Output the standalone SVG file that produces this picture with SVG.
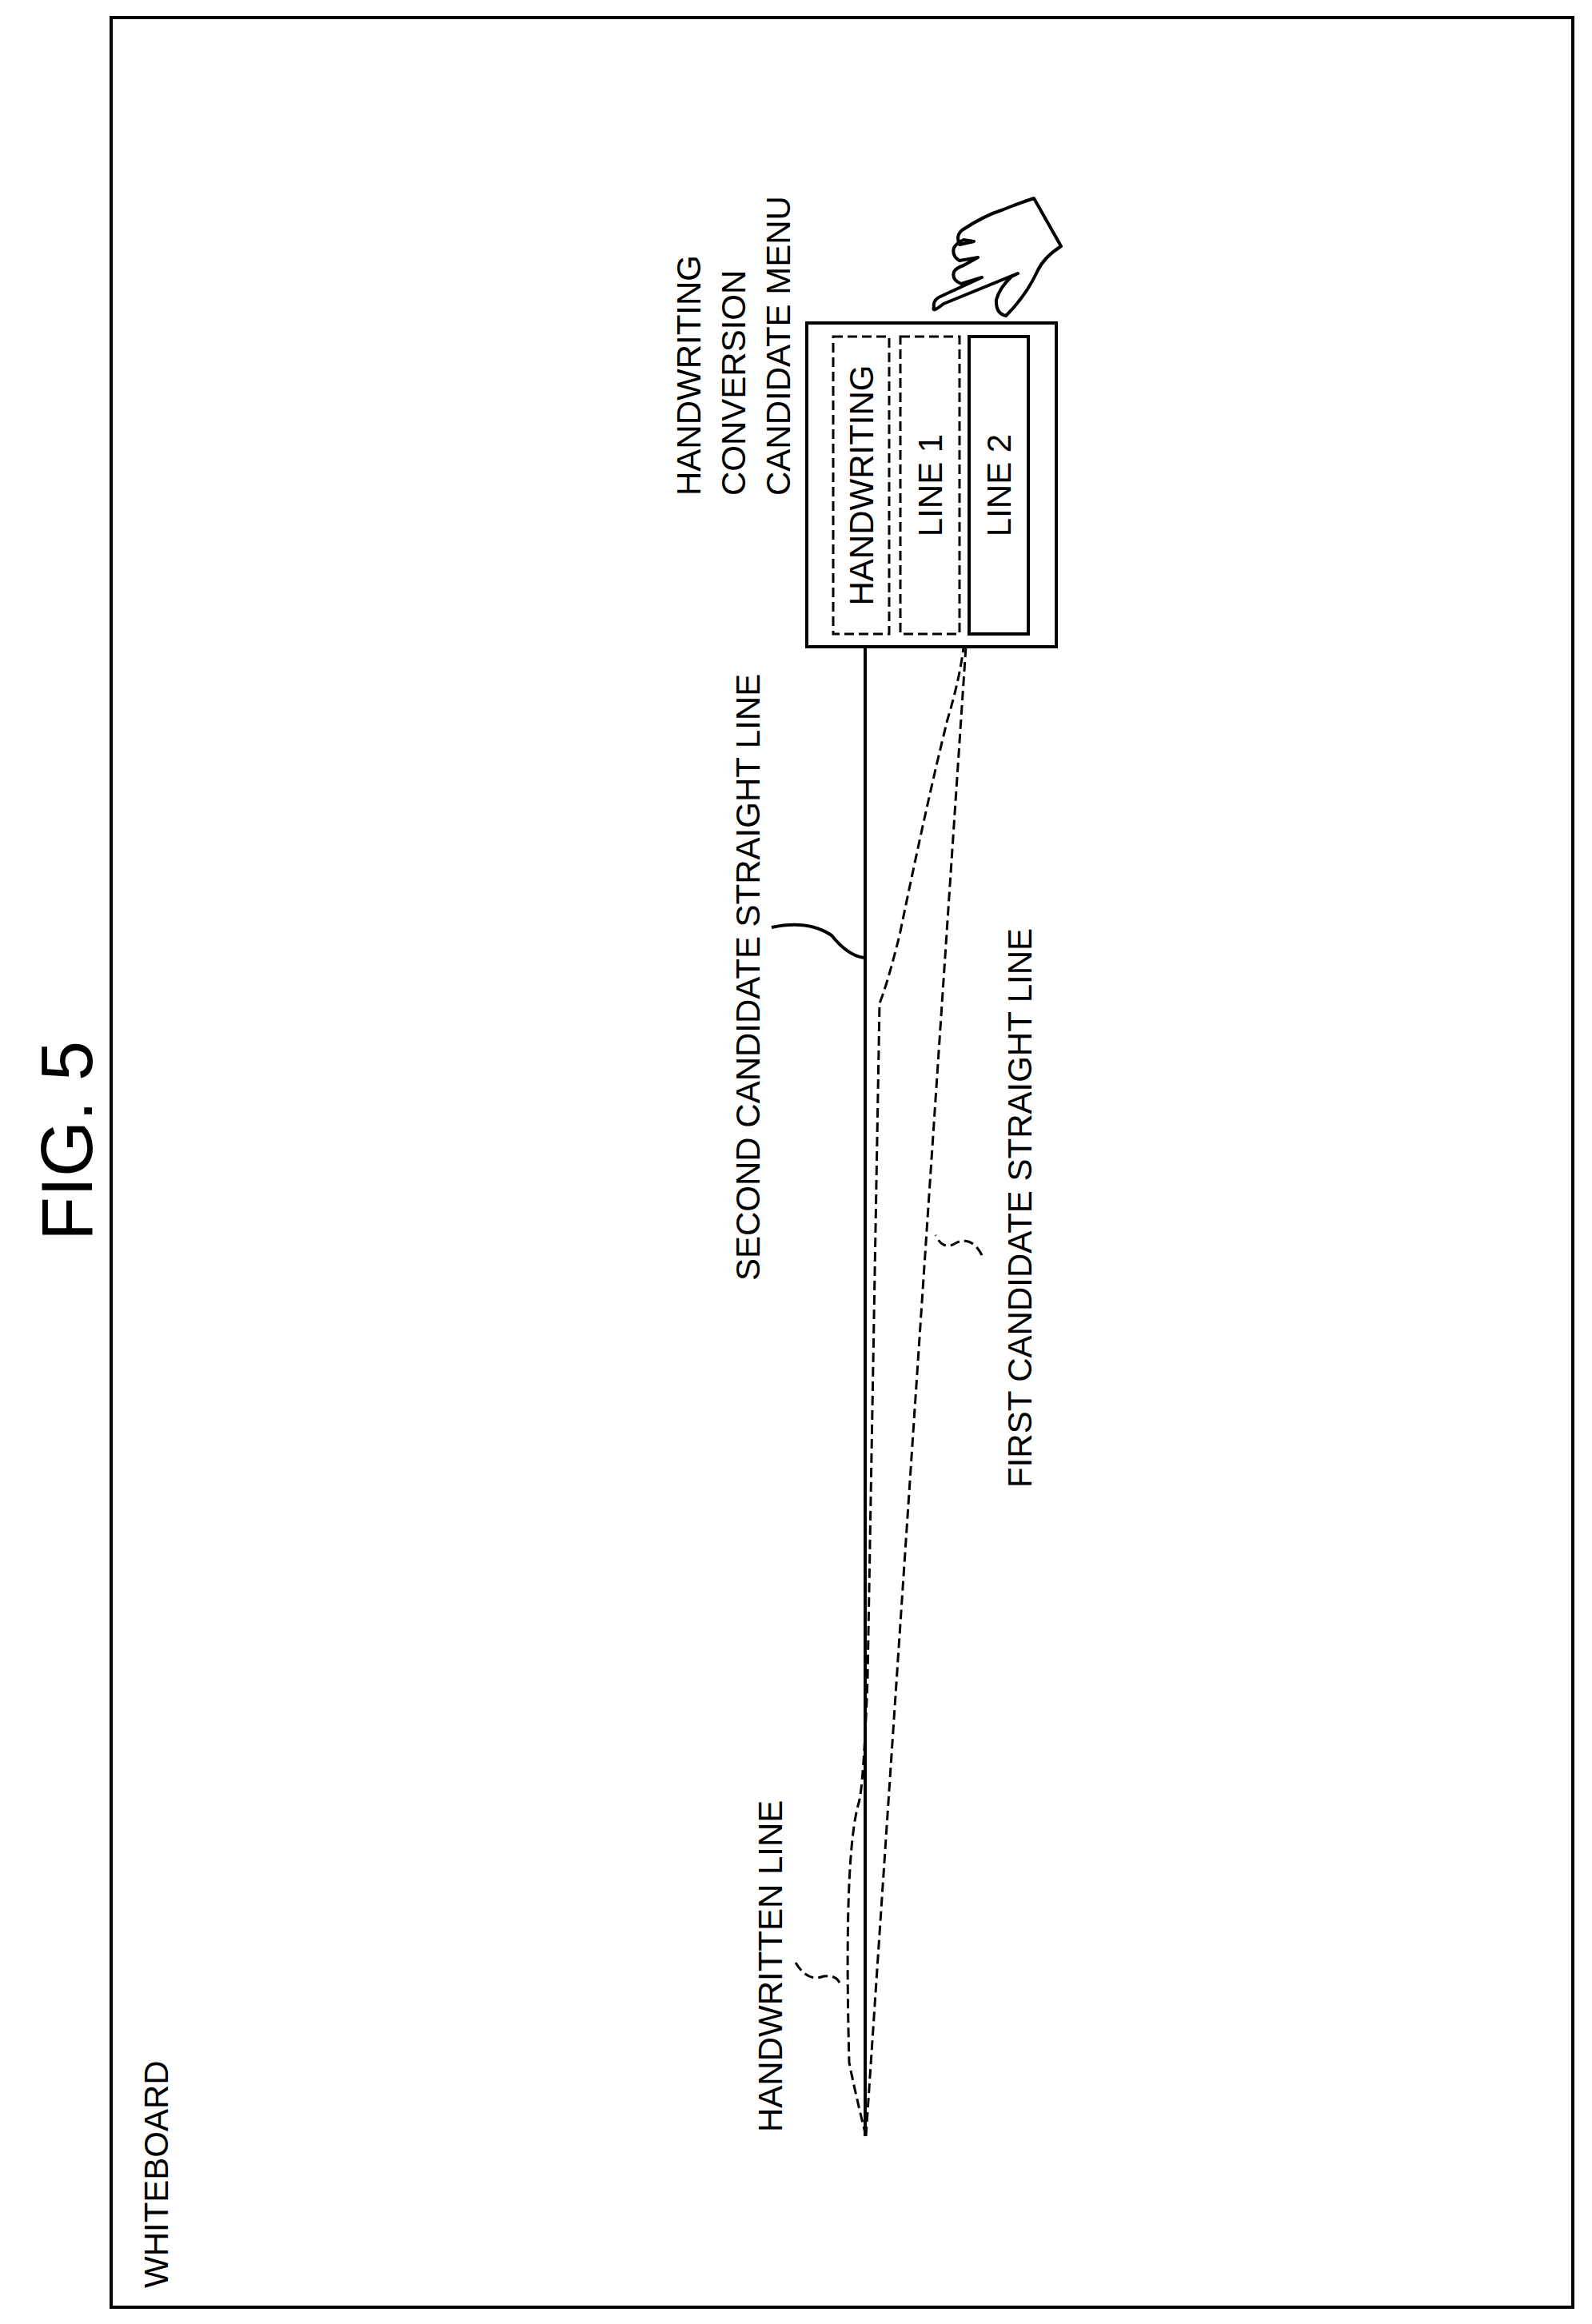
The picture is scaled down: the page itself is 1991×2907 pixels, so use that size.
<svg xmlns="http://www.w3.org/2000/svg" width="1991" height="2907" viewBox="0 0 1991 2907">
<style>
text{font-family:"Liberation Sans",Arial,sans-serif;font-size:42px;fill:#000}
.s{fill:none;stroke:#000;stroke-width:4}
.d{fill:none;stroke:#000;stroke-width:3;stroke-dasharray:12 6}
</style>
<rect width="1991" height="2907" fill="#fff"/>
<rect x="139" y="22" width="1828" height="2864" class="s"/>
<text transform="translate(115,1427) rotate(-90)" text-anchor="middle" font-size="90" style="font-size:90px">FIG. 5</text>
<text transform="translate(210,2862) rotate(-90)">WHITEBOARD</text>
<g id="menu">
<rect x="1009" y="404" width="312" height="405" class="s" stroke-width="5"/>
<rect x="1042" y="421" width="70" height="372" class="d"/>
<text transform="translate(1092,607) rotate(-90)" text-anchor="middle">HANDWRITING</text>
<rect x="1126" y="421" width="74" height="372" class="d"/>
<text transform="translate(1178,607) rotate(-90)" text-anchor="middle">LINE 1</text>
<rect x="1212" y="421" width="74" height="372" class="s" stroke-width="6"/>
<text transform="translate(1264,607) rotate(-90)" text-anchor="middle">LINE 2</text>
</g>
<g id="menu-title">
<text transform="translate(876,620) rotate(-90)">HANDWRITING</text>
<text transform="translate(932,620) rotate(-90)">CONVERSION</text>
<text transform="translate(988,620) rotate(-90)">CANDIDATE MENU</text>
</g>
<g id="hand" class="s" stroke-linejoin="round" stroke-linecap="round">
<path d="M1293,248 L1327,308 Q1305,322 1297,340 Q1283,370 1258,395 Q1245,392 1246,375 Q1250,360 1265,346 L1273,342 L1180,380 Q1165,392 1168,384 Q1166,375 1178,370 L1228,347 L1202,355 Q1190,350 1193,340 Q1196,335 1205,332 L1223,322 L1200,326 Q1190,320 1193,310 Q1196,304 1205,300 L1218,302 L1200,306 Q1195,295 1203,288 Q1230,270 1255,262 Q1278,253 1293,248 Z"/>
</g>
<g id="connectors">
<line x1="1082" y1="809" x2="1082" y2="2672" class="s"/>
<path d="M1083,2672 L1208,809" class="d"/>
<path d="M1083,2672 Q1070,2620 1062,2580 Q1055,2320 1074,2255 Q1080,2235 1085,2100 L1100,1255 Q1110,1230 1125,1170 Q1160,1000 1185,900 Q1200,850 1205,810" class="d"/>
<path d="M965,1160 Q1010,1150 1040,1170 Q1060,1195 1080,1198" class="s" stroke-width="2.5"/>
<path d="M1228,1570 Q1215,1545 1195,1555 Q1180,1565 1170,1545" class="d" stroke-width="2.5" stroke-dasharray="8 5"/>
<path d="M995,2455 Q1010,2480 1030,2472 Q1045,2470 1050,2480" class="d" stroke-width="2.5" stroke-dasharray="8 5"/>
</g>
<g id="labels">
<text transform="translate(950,1602) rotate(-90)">SECOND CANDIDATE STRAIGHT LINE</text>
<text transform="translate(1290,1861) rotate(-90)">FIRST CANDIDATE STRAIGHT LINE</text>
<text transform="translate(978,2667) rotate(-90)">HANDWRITTEN LINE</text>
</g>
</svg>
